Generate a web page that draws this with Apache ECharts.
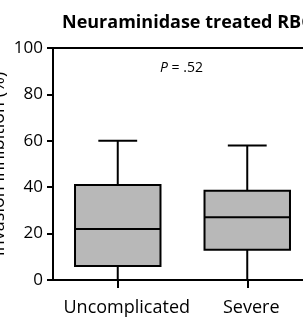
<!DOCTYPE html>
<html>
<head>
<meta charset="utf-8">
<script src="https://cdn.jsdelivr.net/npm/echarts@6/dist/echarts.min.js"></script>
<style>
  html, body { margin: 0; padding: 0; background: #fff; }
  #chart { width: 303px; height: 322px; }
</style>
</head>
<body>
<div id="chart"></div>
<script>
  var categories = ['Uncomplicated', 'Severe'];
  var whiskerLow = [0, 0];
  var q1 = [6, 13];
  var median = [22, 27];
  var q3 = [41, 38.5];
  var whiskerHigh = [60, 58];
  var yTicks = [0, 20, 40, 60, 80, 100];

  var boxData = categories.map(function (c, i) {
    return [i, whiskerLow[i], q1[i], median[i], q3[i], whiskerHigh[i]];
  });

  var FONT = '"Open Sans", sans-serif';

  function renderBox(params, api) {
    var idx = api.value(0);
    var catW = api.size([1, 0])[0];
    var boxW = catW * 0.66;
    var capW = catW * 0.3;
    var pLow = api.coord([idx, api.value(1)]);
    var pQ1 = api.coord([idx, api.value(2)]);
    var pMed = api.coord([idx, api.value(3)]);
    var pQ3 = api.coord([idx, api.value(4)]);
    var pHigh = api.coord([idx, api.value(5)]);
    var x = pQ1[0];
    var lineStyle = { stroke: '#000', lineWidth: 2, fill: null };
    return {
      type: 'group',
      children: [
        { type: 'line', shape: { x1: x, y1: pHigh[1], x2: x, y2: pQ3[1] }, style: lineStyle },
        { type: 'line', shape: { x1: x - capW / 2, y1: pHigh[1], x2: x + capW / 2, y2: pHigh[1] }, style: lineStyle },
        { type: 'line', shape: { x1: x, y1: pQ1[1], x2: x, y2: pLow[1] }, style: lineStyle },
        {
          type: 'rect',
          shape: { x: x - boxW / 2, y: pQ3[1], width: boxW, height: pQ1[1] - pQ3[1] },
          style: { fill: '#b8b8b8', stroke: '#000', lineWidth: 2 }
        },
        { type: 'line', shape: { x1: x - boxW / 2, y1: pMed[1], x2: x + boxW / 2, y2: pMed[1] }, style: lineStyle }
      ]
    };
  }

  var chart = echarts.init(document.getElementById('chart'));
  chart.setOption({
    animation: false,
    title: {
      text: 'Neuraminidase treated RBC',
      left: 57,
      top: 9,
      textStyle: { fontFamily: FONT, fontWeight: 'bold', fontSize: 18, color: '#000' }
    },
    graphic: [{
      type: 'text',
      left: 160,
      top: 61,
      style: {
        text: '{i|P} = .52',
        font: '14px ' + FONT,
        fill: '#000',
        rich: { i: { fontStyle: 'italic', fontFamily: FONT, fontSize: 14 } }
      }
    }],
    grid: { left: 53, top: 48, right: -9, bottom: 42, containLabel: false, outerBoundsMode: 'none' },
    xAxis: [{
      type: 'category',
      data: categories,
      axisLine: { lineStyle: { color: '#000', width: 2 } },
      axisTick: { show: true, alignWithLabel: true, length: 8, lineStyle: { color: '#000', width: 2 } },
      axisLabel: {
        color: '#000', fontFamily: FONT, fontSize: 18, margin: 19, interval: 0,
        formatter: function (v, i) { return '{c' + i + '|' + v + '}'; },
        rich: {
          c0: { fontFamily: FONT, fontSize: 18, color: '#000', padding: [0, 0, 0, 18] },
          c1: { fontFamily: FONT, fontSize: 18, color: '#000', padding: [0, 0, 0, 8] }
        }
      }
    }, {
      type: 'category',
      position: 'top',
      data: categories,
      axisLine: { lineStyle: { color: '#000', width: 2 } },
      axisTick: { show: false },
      axisLabel: { show: false }
    }],
    yAxis: {
      type: 'value',
      min: 0,
      max: 100,
      interval: 20,
      name: 'Invasion inhibition (%)',
      nameLocation: 'middle',
      nameGap: 45,
      nameMoveOverlap: false,
      nameTextStyle: { color: '#000', fontFamily: FONT, fontSize: 18 },
      axisLine: { show: true, lineStyle: { color: '#000', width: 2 } },
      axisTick: { show: true, length: 6, lineStyle: { color: '#000', width: 2 } },
      axisLabel: {
        color: '#000', fontFamily: FONT, fontSize: 17, margin: 10,
        formatter: function (v) { return yTicks.indexOf(v) >= 0 ? String(v) : ''; }
      },
      splitLine: { show: false }
    },
    series: [{
      type: 'custom',
      renderItem: renderBox,
      encode: { x: 0, y: [1, 2, 3, 4, 5] },
      data: boxData
    }]
  });
</script>
</body>
</html>
